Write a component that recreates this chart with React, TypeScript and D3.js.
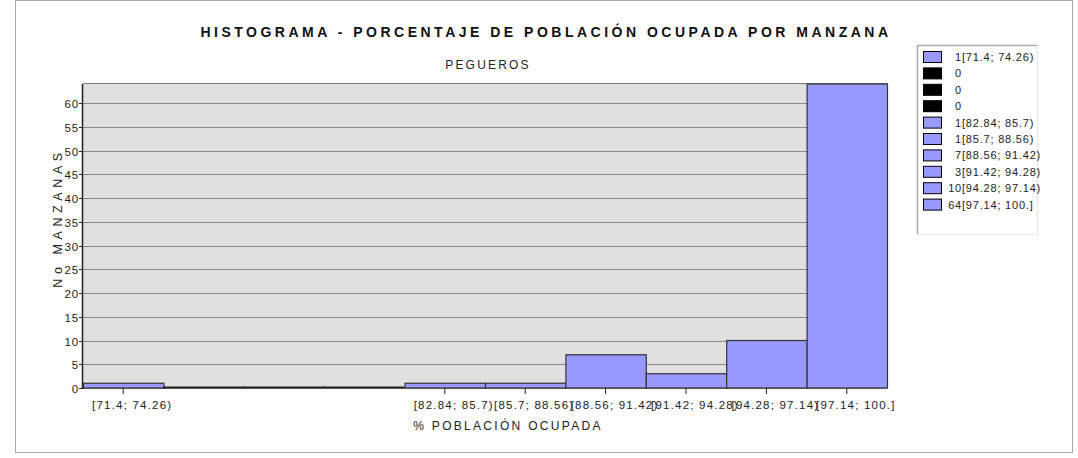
import { useMemo } from 'react'
import * as d3 from 'd3'

const binLabels = [
  '[71.4; 74.26)',
  '[74.26; 77.12)',
  '[77.12; 79.98)',
  '[79.98; 82.84)',
  '[82.84; 85.7)',
  '[85.7; 88.56)',
  '[88.56; 91.42)',
  '[91.42; 94.28)',
  '[94.28; 97.14)',
  '[97.14; 100.]',
]
const counts = [1, 0, 0, 0, 1, 1, 7, 3, 10, 64]
const yTicks = [0, 5, 10, 15, 20, 25, 30, 35, 40, 45, 50, 55, 60]

const SIZE = { width: 1078, height: 458 }
const PLOT = { left: 83, top: 84, right: 887, bottom: 388 }
const FONT = '"Liberation Sans", Arial, sans-serif'
const BAR_FILL = '#9999ff'

export default function App() {
  const { x, y } = useMemo(() => {
    const x = d3
      .scaleBand<string>()
      .domain(binLabels)
      .range([PLOT.left, PLOT.right])
      .padding(0)
    const y = d3
      .scaleLinear()
      .domain([0, d3.max(counts) || 1])
      .range([PLOT.bottom, PLOT.top])
    return { x, y }
  }, [])

  const bw = x.bandwidth()

  return (
    <svg
      width={SIZE.width}
      height={SIZE.height}
      style={{ position: 'absolute', left: 0, top: 0, background: '#fff' }}
      fontFamily={FONT}
    >
      <rect x={15.5} y={0.5} width={1057} height={452} fill="#fff" stroke="#a8a8a8" />

      <text
        x={546}
        y={37}
        textAnchor="middle"
        fontSize={14}
        fontWeight="bold"
        letterSpacing={3.5}
        fill="#111"
      >
        HISTOGRAMA - PORCENTAJE DE POBLACIÓN OCUPADA POR MANZANA
      </text>
      <text x={488} y={69} textAnchor="middle" fontSize={12} letterSpacing={2.2} fill="#222">
        PEGUEROS
      </text>

      {/* plot background */}
      <rect
        x={PLOT.left}
        y={PLOT.top}
        width={PLOT.right - PLOT.left}
        height={PLOT.bottom - PLOT.top}
        fill="#e0e0e0"
      />
      <line x1={PLOT.left} x2={PLOT.right} y1={PLOT.top - 0.5} y2={PLOT.top - 0.5} stroke="#777" />

      {yTicks.map((t) => (
        <g key={t} transform={`translate(0 ${Math.round(y(t)) + 0.5})`}>
          <line x1={PLOT.left} x2={PLOT.right} stroke="#8a8a8a" />
          <line x1={PLOT.left - 4} x2={PLOT.left} stroke="#222" />
          <text
            x={PLOT.left - 4}
            dy="0.35em"
            textAnchor="end"
            fontSize={11.5}
            letterSpacing={0.8}
            fill="#222"
          >
            {t}
          </text>
        </g>
      ))}

      {binLabels.map((label, i) => {
        const bx = x(label) || 0
        const v = counts[i]
        return (
          <g key={label}>
            {v > 0 ? (
              <rect
                x={bx + 0.5}
                y={y(v)}
                width={bw}
                height={PLOT.bottom - y(v)}
                fill={BAR_FILL}
                stroke="#333"
                strokeWidth={1.2}
              />
            ) : (
              <>
                <line x1={bx} x2={bx + bw} y1={PLOT.bottom - 0.5} y2={PLOT.bottom - 0.5} stroke="#222" strokeWidth={2} />
                <line x1={bx + 0.5} x2={bx + 0.5} y1={PLOT.bottom - 2} y2={PLOT.bottom} stroke="#222" />
              </>
            )}
            {v > 0 && (
              <>
                <line
                  x1={bx + bw / 2}
                  x2={bx + bw / 2}
                  y1={PLOT.bottom}
                  y2={PLOT.bottom + 6}
                  stroke="#222"
                />
                <text
                  x={bx + bw / 2 + 9}
                  y={PLOT.bottom + 21}
                  textAnchor="middle"
                  fontSize={11.5}
                  letterSpacing={1.2}
                  fill="#222"
                >
                  {label}
                </text>
              </>
            )}
          </g>
        )
      })}

      <line x1={PLOT.left - 0.5} x2={PLOT.left - 0.5} y1={PLOT.top} y2={PLOT.bottom + 1} stroke="#222" strokeWidth={1.5} />

      <text
        x={508}
        y={430}
        textAnchor="middle"
        fontSize={12}
        letterSpacing={2.3}
        fill="#222"
      >
        % POBLACIÓN OCUPADA
      </text>
      <text
        transform="translate(62 218) rotate(-90)"
        textAnchor="middle"
        fontSize={12.5}
        letterSpacing={4.6}
        fill="#222"
      >
        No MANZANAS
      </text>

      {/* legend */}
      <rect x={917.5} y={45.5} width={120} height={189} fill="#fff" stroke="#e8e8e8" />
      <line x1={917.5} x2={917.5} y1={45} y2={234} stroke="#aaa" strokeWidth={1.5} />
      <line x1={917} x2={1037} y1={45.5} y2={45.5} stroke="#aaa" strokeWidth={1.5} />
      {binLabels.map((label, i) => {
        const v = counts[i]
        const ry = 51 + i * 16.4
        return (
          <g key={`lg-${label}`}>
            <rect
              x={923.5}
              y={ry + 0.5}
              width={18}
              height={11}
              fill={v > 0 ? BAR_FILL : '#000'}
              stroke="#000"
            />
            <text x={962} y={ry + 10} textAnchor="end" fontSize={11} letterSpacing={0.8} fill="#222">
              {v}
            </text>
            {v > 0 && (
              <text x={962} y={ry + 10} fontSize={11} letterSpacing={0.8} fill="#222">
                {label}
              </text>
            )}
          </g>
        )
      })}
    </svg>
  )
}
